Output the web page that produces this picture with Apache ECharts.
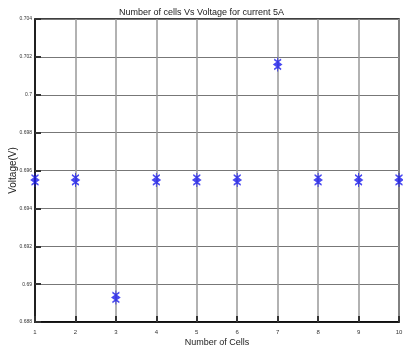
<!DOCTYPE html>
<html lang="en">
<head>
    <meta charset="UTF-8">
    <title>Number of cells Vs Voltage</title>
    <style>
        body { margin: 0; background: #fff; }
        #chart { width: 403px; height: 350px; }
    </style>
</head>
<body>
    <div id="chart"></div>
    <script src="https://cdn.jsdelivr.net/npm/echarts@6/dist/echarts.min.js"></script>
    <script>
        // values
        const cells = [1, 2, 3, 4, 5, 6, 7, 8, 9, 10];
        const voltage = [0.6955, 0.6955, 0.6893, 0.6955, 0.6955, 0.6955, 0.7016, 0.6955, 0.6955, 0.6955];

        const chart = echarts.init(document.getElementById('chart'));
        const font = '"Liberation Sans Narrow", "Liberation Sans", Arial, sans-serif';

        const option = {
            animation: false,
            title: {
                text: 'Number of cells Vs Voltage for current 5A',
                left: 'center', top: 3,
                textStyle: { fontFamily: font, fontSize: 9, fontWeight: 'normal', color: '#222' }
            },
            grid: {
                left: 35, right: 4, top: 19, bottom: 28,
                containLabel: false, outerBoundsMode: 'none',
                show: true, borderColor: '#000', borderWidth: 1.5
            },
            xAxis: {
                type: 'value', min: 1, max: 10, interval: 1,
                name: 'Number of Cells', nameLocation: 'middle', nameGap: 16,
                nameMoveOverlap: false,
                nameTextStyle: { fontFamily: font, fontSize: 9, color: '#222' },
                axisLine: { lineStyle: { color: '#000', width: 1.5 } },
                axisTick: { inside: true, length: 6, lineStyle: { color: '#333', width: 2 } },
                axisLabel: { fontFamily: font, fontSize: 6, color: '#333', margin: 7 },
                splitLine: { lineStyle: { color: '#999', width: 1.5 } }
            },
            yAxis: {
                type: 'value', min: 0.688, max: 0.704, interval: 0.002,
                name: 'Voltage(V)', nameLocation: 'middle', nameGap: 17,
                nameMoveOverlap: false,
                nameTextStyle: { fontFamily: 'Liberation Sans, Arial, sans-serif', fontSize: 10, color: '#222' },
                axisLine: { lineStyle: { color: '#000', width: 1.5 } },
                axisTick: { inside: true, length: 6, lineStyle: { color: '#333', width: 2 } },
                axisLabel: {
                    fontFamily: font, fontSize: 5, color: '#333', margin: 3,
                    formatter: v => String(+v.toFixed(3))
                },
                splitLine: { lineStyle: { color: '#777', width: 1 } }
            },
            series: [{
                type: 'scatter',
                data: cells.map((c, i) => [c, voltage[i]]),
                symbol: 'path://M4,0L4,14M0,2L8,7L0,12M8,2L0,7L8,12M0,7L8,7',
                symbolSize: [7, 14],
                itemStyle: { color: 'none', borderColor: '#1a1aee', borderWidth: 1.3 }
            }]
        };
        chart.setOption(option);
    </script>
</body>
</html>
